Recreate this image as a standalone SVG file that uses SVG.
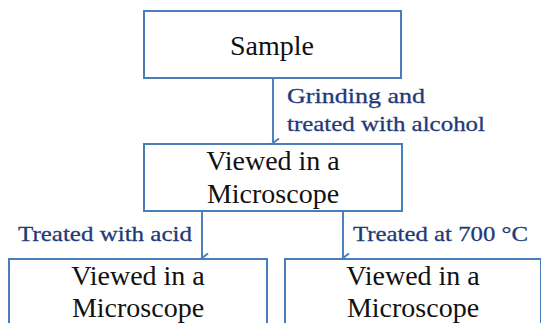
<svg xmlns="http://www.w3.org/2000/svg" width="541" height="323" viewBox="0 0 541 323">
<defs>
<style>
.box{fill:#fff;stroke:#4a7ebb;stroke-width:2}
text{font-family:'Liberation Serif','Times New Roman',Times,serif}
.nt{font-size:28px;fill:#111;text-anchor:middle}
.lb{font-size:22px;fill:#1f3a78;stroke:#1f3a78;stroke-width:0.3}
.ar{stroke:#4f81bd;stroke-width:2;fill:none}
</style>
<marker id="ah" markerWidth="12" markerHeight="12" refX="6" refY="10" orient="auto" markerUnits="userSpaceOnUse" viewBox="0 0 12 12">
<path d="M1.5 4 L6 10 L10.5 4" fill="none" stroke="#4f81bd" stroke-width="2"/>
</marker>
</defs>
<rect width="541" height="323" fill="#fff"/>
<g id="connectors">
<line class="ar" x1="273" y1="78" x2="273" y2="143" marker-end="url(#ah)"/>
<line class="ar" x1="202" y1="211" x2="202" y2="258" marker-end="url(#ah)"/>
<line class="ar" x1="343" y1="211" x2="343" y2="258" marker-end="url(#ah)"/>
</g>
<g id="labels">
<text class="lb" x="287" y="103" textLength="138" lengthAdjust="spacingAndGlyphs">Grinding  and</text>
<text class="lb" x="287" y="131" textLength="198" lengthAdjust="spacingAndGlyphs">treated with alcohol</text>
<text class="lb" x="18" y="241" textLength="174" lengthAdjust="spacingAndGlyphs">Treated with acid</text>
<text class="lb" x="353" y="241" textLength="175" lengthAdjust="spacingAndGlyphs">Treated at 700 °C</text>
</g>
<g id="sample">
<rect class="box" x="144" y="11" width="257" height="67"/>
<text class="nt" x="272" y="55">Sample</text>
</g>
<g id="microscope1">
<rect class="box" x="144" y="144" width="258" height="67"/>
<text class="nt" x="273" y="170">Viewed in a</text>
<text class="nt" x="273" y="203">Microscope</text>
</g>
<g id="microscope2">
<rect class="box" x="9" y="259" width="258" height="80"/>
<text class="nt" x="138" y="285">Viewed in a</text>
<text class="nt" x="138" y="317">Microscope</text>
</g>
<g id="microscope3">
<rect class="box" x="285" y="259" width="256" height="80"/>
<text class="nt" x="413" y="285">Viewed in a</text>
<text class="nt" x="413" y="317">Microscope</text>
</g>
</svg>
